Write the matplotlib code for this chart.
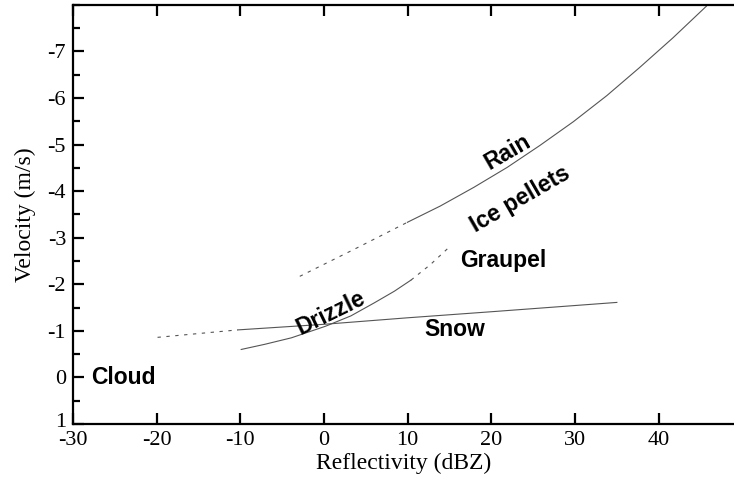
import matplotlib
matplotlib.use("Agg")
import matplotlib.pyplot as plt
from matplotlib.ticker import MultipleLocator
from matplotlib.transforms import ScaledTranslation

plt.rcParams['axes.unicode_minus'] = False

# fall speed curves, reflectivity (dBZ) vs velocity (m/s, negative = downward)
rain_dbz = [9.96, 13.9, 17.9, 21.9, 25.8, 29.8, 33.8, 37.7, 41.7, 45.7]
rain_vel = [-3.33, -3.68, -4.08, -4.51, -4.98, -5.49, -6.05, -6.65, -7.29, -7.97]
rain_ext_dbz = [-2.9, 3.6, 9.96]
rain_ext_vel = [-2.17, -2.75, -3.33]

drizzle_dbz = [-9.9, -7.1, -3.9, 0.2, 3.2, 6.0, 8.4, 10.4]
drizzle_vel = [-0.60, -0.71, -0.85, -1.10, -1.32, -1.60, -1.85, -2.09]
drizzle_ext_dbz = [10.4, 12.7, 15.1]
drizzle_ext_vel = [-2.09, -2.42, -2.82]

snow_dbz = [-10.3, 0.0, 10.0, 20.0, 35.0]
snow_vel = [-1.02, -1.14, -1.28, -1.41, -1.61]
snow_ext_dbz = [-19.9, -10.3]
snow_ext_vel = [-0.86, -1.02]

# (text, dbz, velocity, angle)
labels = [
    ("Rain", 22.0, -4.83, 30),
    ("Ice pellets", 23.5, -3.82, 30),
    ("Graupel", 21.4, -2.51, 0),
    ("Drizzle", 0.8, -1.39, 26),
    ("Snow", 15.6, -1.03, 0),
    ("Cloud", -24.0, 0.0, 0),
]

fig = plt.figure(figsize=(7.34, 4.78), dpi=100)
ax = fig.add_axes([0.0995, 0.113, 0.9005, 0.877])

line_col = "#555555"
ax.plot(rain_dbz, rain_vel, color=line_col, lw=0.8)
ax.plot(rain_ext_dbz, rain_ext_vel, color=line_col, lw=0.8, dashes=(3, 5))
ax.plot(drizzle_dbz, drizzle_vel, color=line_col, lw=0.8)
ax.plot(drizzle_ext_dbz, drizzle_ext_vel, color=line_col, lw=0.8, dashes=(3, 5))
ax.plot(snow_dbz, snow_vel, color=line_col, lw=0.8)
ax.plot(snow_ext_dbz, snow_ext_vel, color=line_col, lw=0.8, dashes=(3, 5))

for txt, xx, yy, ang in labels:
    ax.text(xx, yy, txt, rotation=ang, ha="center", va="center",
            rotation_mode="anchor", fontsize=16.5, fontweight="bold",
            family="Liberation Sans")

ax.set_xlim(-30, 49)
ax.set_ylim(1, -8)
ax.set_xticks([-30, -20, -10, 0, 10, 20, 30, 40])
ax.set_yticks([-7, -6, -5, -4, -3, -2, -1, 0, 1])
ax.yaxis.set_minor_locator(MultipleLocator(0.5))

ax.spines['right'].set_visible(False)
for s in ['left', 'bottom', 'top']:
    ax.spines[s].set_linewidth(1.6)

ax.tick_params(axis='both', which='major', direction='in', length=8, width=1.6,
               labelsize=16, pad=5)
ax.tick_params(axis='x', top=True)
ax.tick_params(axis='y', which='minor', direction='in', length=5, width=1.6)
for lab in ax.get_xticklabels() + ax.get_yticklabels():
    lab.set_family("Liberation Serif")

# lift the "1" a little so it sits above the "-30" in the corner
corner = ax.yaxis.get_major_ticks()[-1].label1
corner.set_transform(corner.get_transform() + ScaledTranslation(0, 3 / 72, fig.dpi_scale_trans))

ax.set_xlabel("Reflectivity (dBZ)", family="Liberation Serif", fontsize=17, labelpad=2)
ax.set_ylabel("Velocity (m/s)", family="Liberation Serif", fontsize=17, labelpad=8)

fig.savefig("out.png", dpi=100)
